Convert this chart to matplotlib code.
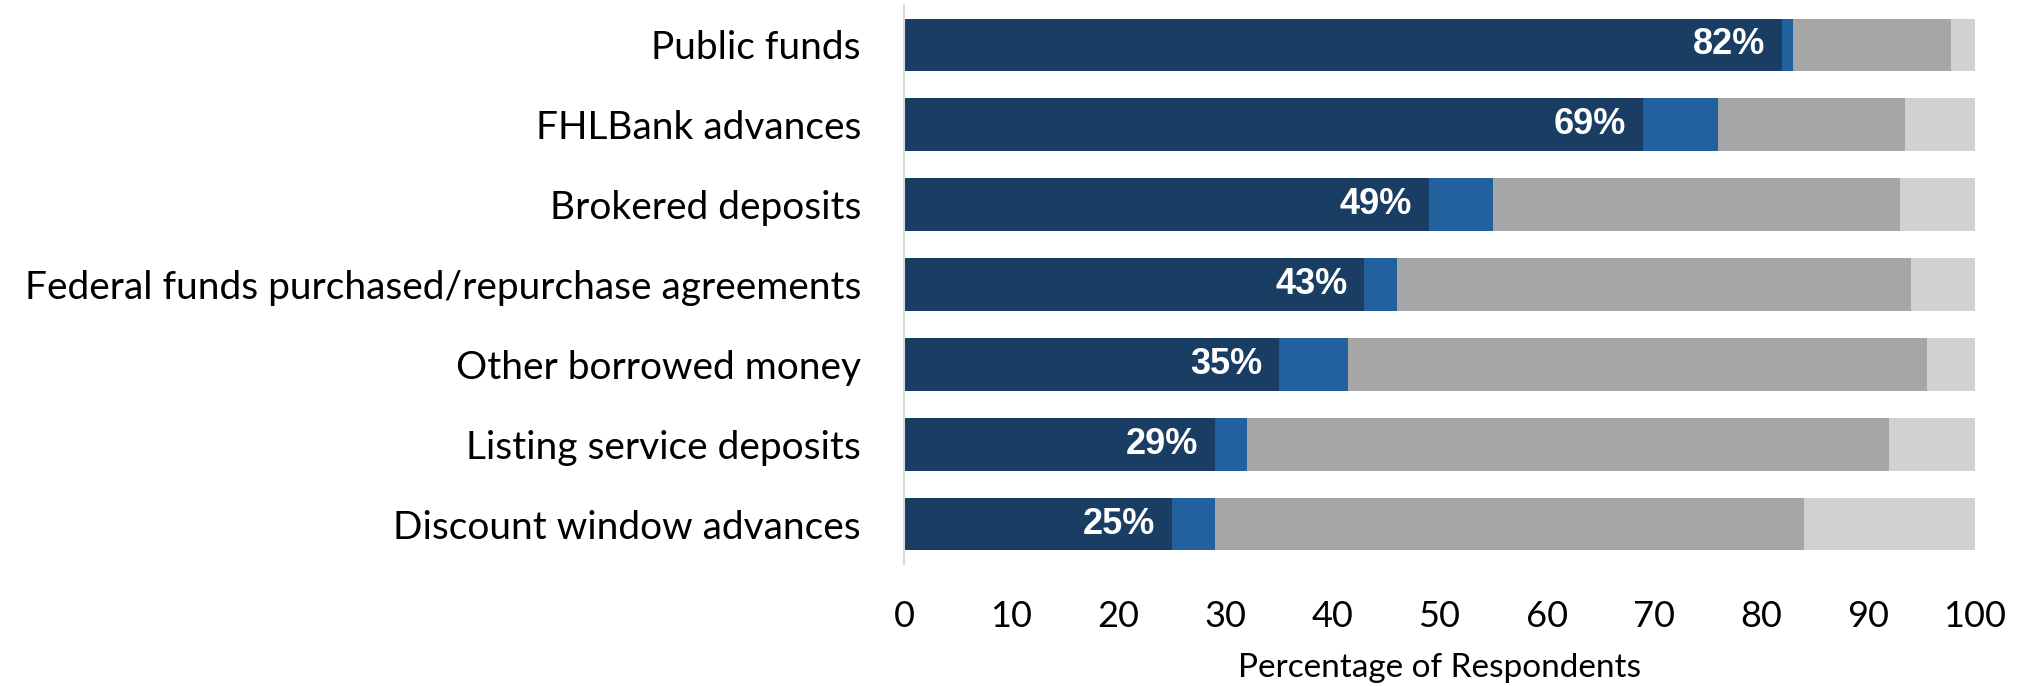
import matplotlib.pyplot as plt
import numpy as np

# Funding sources, top to bottom
sources = ['Public funds', 'FHLBank advances', 'Brokered deposits',
           'Federal funds purchased/repurchase agreements', 'Other borrowed money',
           'Listing service deposits', 'Discount window advances']

# Percentage of respondents in each segment (segments sum to 100)
seg_dark = [82, 69, 49, 43, 35, 29, 25]
seg_blue = [1, 7, 6, 3, 6.5, 3, 4]
seg_gray = [14.8, 17.5, 38, 48, 54, 60, 55]
seg_light = [2.2, 6.5, 7, 6, 4.5, 8, 16]

colors = ['#1a3d64', '#23609e', '#a6a6a6', '#d1d1d1']

fig = plt.figure(figsize=(20.25, 6.86), dpi=100)
ax = fig.add_axes([0.4464, 0.1778, 0.5289, 0.8149])

y = np.arange(len(sources))
left = np.zeros(len(sources))
for seg, c in zip([seg_dark, seg_blue, seg_gray, seg_light], colors):
    ax.barh(y, seg, left=left, height=0.66, color=c, linewidth=0)
    left += np.array(seg)

# value labels inside the end of the dark segment
for yi, v in zip(y, seg_dark):
    ax.annotate(f'{v}%', xy=(v, yi), xytext=(-12, 0), textcoords='offset points',
                ha='right', va='center', color='white', fontsize=26,
                fontweight='bold', family='Liberation Sans')

ax.set_ylim(len(sources) - 0.5, -0.5)
ax.set_xlim(0, 100)
ax.set_xticks(np.arange(0, 101, 10))
ax.set_yticks(y)
ax.set_yticklabels(sources, family='Lato', fontsize=28)
ax.set_xticklabels([str(t) for t in range(0, 101, 10)], family='Lato', fontsize=26)
ax.tick_params(axis='both', length=0)
ax.tick_params(axis='y', pad=31)
ax.tick_params(axis='x', pad=26)
ax.set_xlabel('Percentage of Respondents', family='Lato', fontsize=24, labelpad=14)

for s in ['top', 'right', 'bottom']:
    ax.spines[s].set_visible(False)
ax.spines['left'].set_color('#d9d9d9')
ax.spines['left'].set_linewidth(1.5)

fig.savefig('out.png', dpi=100)
